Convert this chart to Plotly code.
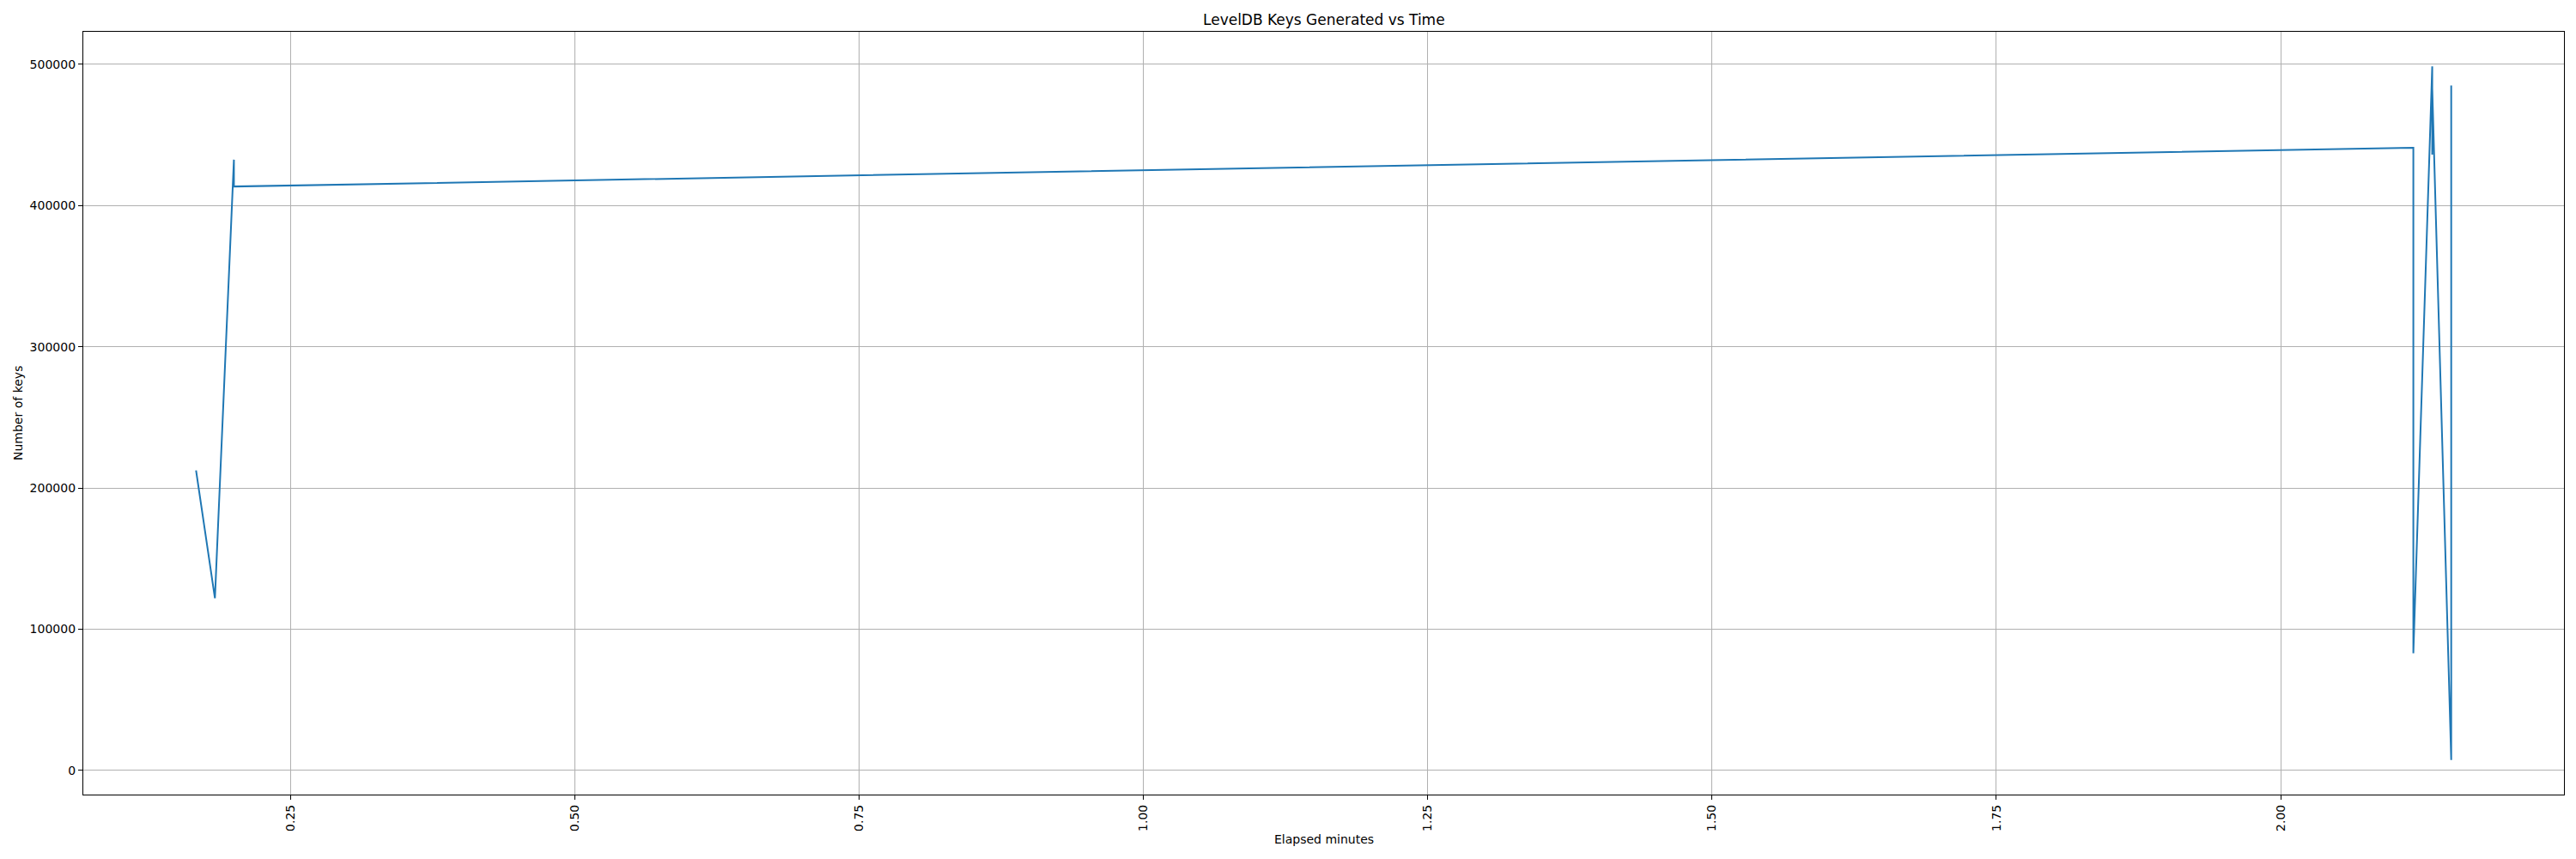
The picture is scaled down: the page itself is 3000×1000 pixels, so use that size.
import plotly.graph_objects as go

# Elapsed minutes and number of keys
elapsed_minutes = [0.1667, 0.1833, 0.2000, 0.2000, 2.1167, 2.1167,
                   2.1333, 2.1333, 2.1333, 2.1500, 2.1500, 2.1500]
num_keys = [212500, 122000, 432500, 413500, 441000, 83000,
            498500, 436000, 483000, 7500, 485000, 135000]

x_ticks = [0.25, 0.50, 0.75, 1.00, 1.25, 1.50, 1.75, 2.00]
y_ticks = [0, 100000, 200000, 300000, 400000, 500000]

title_text = "LevelDB Keys Generated vs Time"
x_title = "Elapsed minutes"
y_title = "Number of keys"


def padded(vals, frac=0.05):
    lo, hi = min(vals), max(vals)
    d = (hi - lo) * frac
    return [lo - d, hi + d]


fig = go.Figure()
fig.add_trace(go.Scatter(
    x=elapsed_minutes, y=num_keys, mode="lines",
    line=dict(color="#1f77b4", width=2),
    showlegend=False,
))

font_family = "DejaVu Sans"
axis_common = dict(
    showline=True, linecolor="black", linewidth=1.3, mirror=True,
    ticks="outside", ticklen=5, tickwidth=1.2, tickcolor="black",
    showgrid=True, gridcolor="#b0b0b0", gridwidth=1,
    zeroline=False, automargin=False,
    tickfont=dict(family=font_family, size=14, color="black"),
)

# the page body adds an 8px margin, so the figure is sized to fit the window
fig.update_layout(
    width=2984, height=984,
    margin=dict(l=89, r=6, t=29, b=67, autoexpand=False),
    paper_bgcolor="white", plot_bgcolor="white",
    font=dict(family=font_family, color="black"),
    xaxis=dict(
        **axis_common,
        range=padded(elapsed_minutes),
        tickvals=x_ticks,
        ticktext=[f"{v:.2f}" for v in x_ticks],
        tickangle=-90,
    ),
    yaxis=dict(
        **axis_common,
        range=padded(num_keys),
        tickvals=y_ticks,
        ticktext=[str(v) for v in y_ticks],
    ),
    annotations=[
        dict(text=title_text, xref="paper", yref="paper", x=0.5, y=1,
             xanchor="center", yanchor="middle", yshift=14, showarrow=False,
             font=dict(family=font_family, size=17, color="black")),
        dict(text=x_title, xref="paper", yref="paper", x=0.5, y=0,
             xanchor="center", yanchor="middle", yshift=-52, showarrow=False,
             font=dict(family=font_family, size=14, color="black")),
        dict(text=y_title, xref="paper", yref="paper", x=0, y=0.5,
             xanchor="center", yanchor="middle", xshift=-76, textangle=-90,
             showarrow=False,
             font=dict(family=font_family, size=14, color="black")),
    ],
)

fig.write_html("out.html")
